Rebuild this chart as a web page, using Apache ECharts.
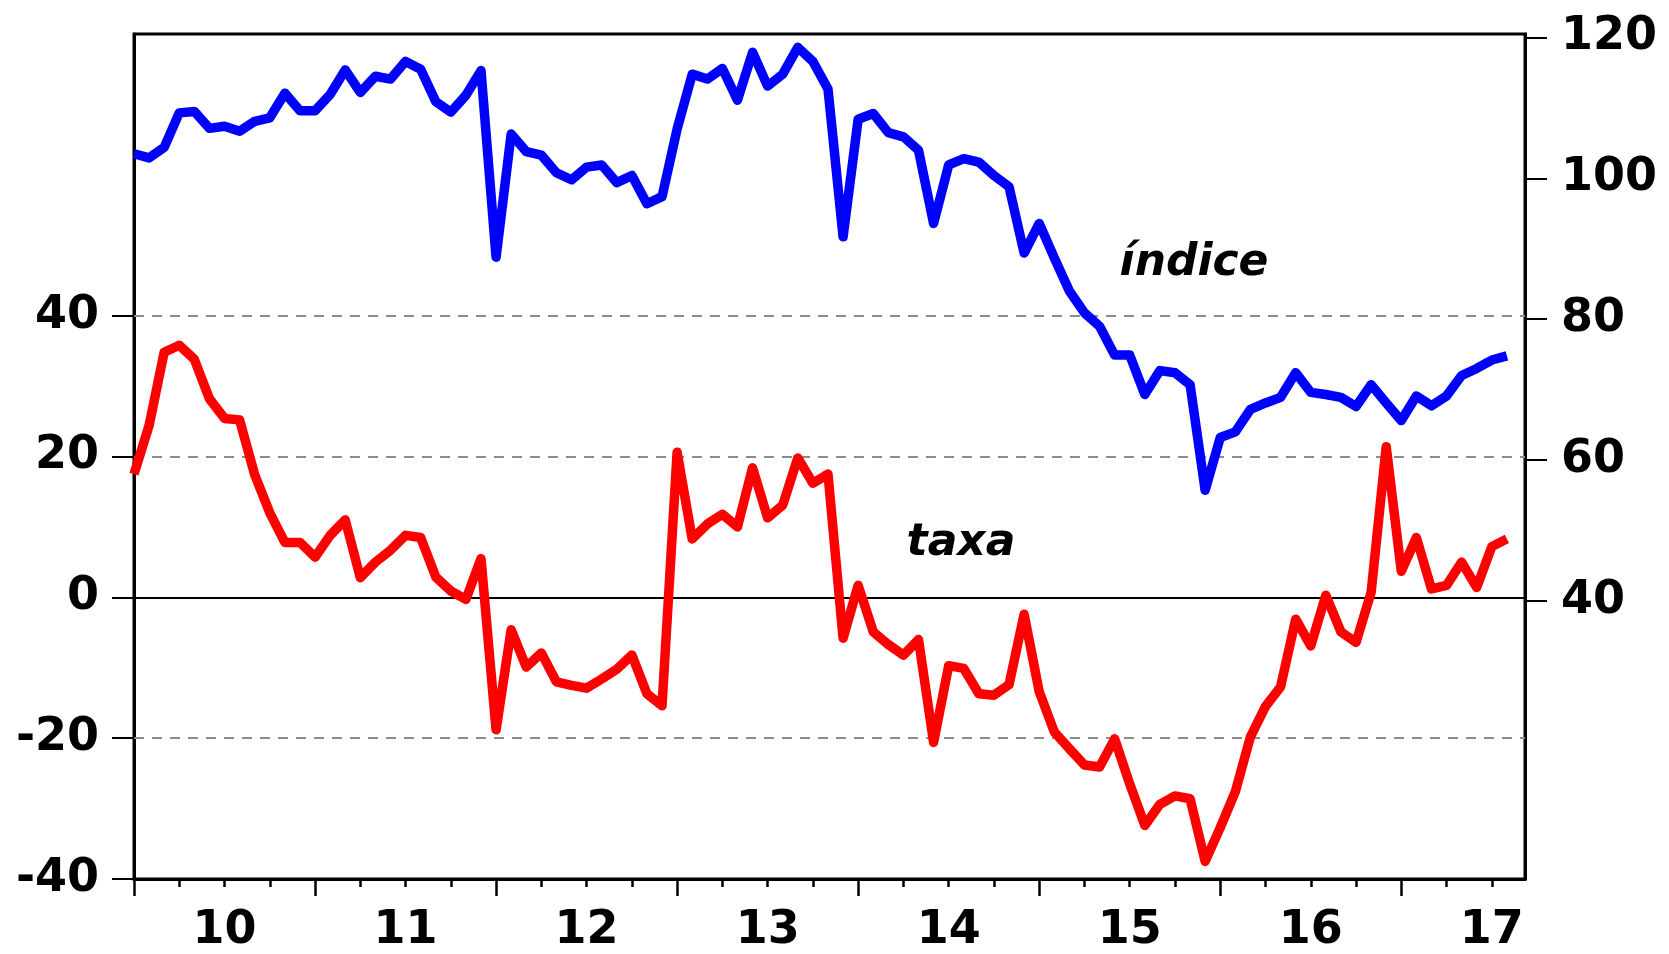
<!DOCTYPE html>
<html>
<head>
<meta charset="utf-8">
<script src="https://cdn.jsdelivr.net/npm/echarts@6/dist/echarts.min.js"></script>
<style>
html, body { margin: 0; padding: 0; background: #fff; }
#chart { width: 1669px; height: 954px; }
</style>
</head>
<body>
<div id="chart"></div>
<script>
// monthly observations, Jan 2010 .. Aug 2017
const months = [];
for (let y = 2010; y <= 2017; y++) {
  for (let m = 1; m <= 12; m++) {
    if (y === 2017 && m > 8) break;
    months.push(y + "-" + String(m).padStart(2, "0"));
  }
}

// taxa (left axis, red)
const taxa = [17.5, 24.4, 34.8, 35.8, 33.8, 28.2, 25.4, 25.2, 17.4, 12.0,
  7.8, 7.8, 5.7, 8.8, 11.0, 2.8, 5.0, 6.7, 8.8, 8.5,
  2.9, 0.9, -0.3, 5.5, -18.8, -4.6, -9.9, -7.9, -12.0, -12.5,
  -12.9, -11.6, -10.2, -8.2, -13.7, -15.4, 20.6, 8.3, 10.4, 11.8,
  10.0, 18.4, 11.3, 13.1, 19.8, 16.2, 17.5, -5.8, 1.7, -4.9,
  -6.7, -8.2, -6.0, -20.6, -9.7, -10.1, -13.7, -13.9, -12.4, -2.4,
  -13.4, -19.1, -21.5, -23.8, -24.1, -20.1, -26.5, -32.4, -29.4, -28.2,
  -28.6, -37.5, -32.7, -27.6, -19.8, -15.5, -12.7, -3.1, -6.9, 0.3,
  -4.9, -6.4, 0.7, 21.4, 3.7, 8.5, 1.2, 1.7, 5.0, 1.4,
  7.2, 8.3];

// índice (right axis, blue)
const indice = [103.5, 102.9, 104.4, 109.3, 109.5, 107.1, 107.4, 106.7, 108.1, 108.6,
  112.1, 109.6, 109.6, 111.9, 115.4, 112.2, 114.5, 114.1, 116.6, 115.5,
  110.9, 109.4, 111.8, 115.3, 88.8, 106.3, 103.8, 103.3, 100.8, 99.8,
  101.6, 101.9, 99.4, 100.4, 96.4, 97.4, 107.0, 114.8, 114.1, 115.6,
  111.1, 117.9, 113.1, 114.8, 118.6, 116.6, 112.7, 91.7, 108.4, 109.2,
  106.5, 105.9, 104.0, 93.6, 101.9, 102.8, 102.3, 100.4, 98.8, 89.4,
  93.6, 88.7, 84.0, 80.9, 79.0, 74.9, 74.9, 69.3, 72.7, 72.4,
  70.7, 55.7, 63.2, 64.0, 67.2, 68.1, 68.9, 72.4, 69.6, 69.3,
  68.9, 67.6, 70.7, 68.1, 65.6, 69.1, 67.7, 69.1, 72.0, 73.0,
  74.2, 74.8];

// axis ticks / labels
const yearLabels = ["10", "11", "12", "13", "14", "15", "16", "17"];
const yearTicks = [6, 18, 30, 42, 54, 66, 78, 90];          // mid-year label spots
const majorTicks = [0, 12, 24, 36, 48, 60, 72, 84];         // January
const quarterTicks = [];
for (let i = 0; i <= 90; i += 3) quarterTicks.push(i);
const leftTicks = [-40, -20, 0, 20, 40];
const rightTicks = [40, 60, 80, 100, 120];
const gridLevels = [40, 20, -20];

const axisFont = {
  fontFamily: "DejaVu Sans",
  fontWeight: "bold",
  fontSize: 46,
  color: "#000",
};

var chartDom = document.getElementById("chart");
var myChart = echarts.init(chartDom);

var option = {
  animation: false,
  backgroundColor: "#fff",
  grid: {
    left: 134, right: 144, top: 34, bottom: 72,
    show: true, borderColor: "#000", borderWidth: 3,
  },
  xAxis: [
    {
      type: "value", min: 0, max: 92.2, position: "bottom",
      axisLine: { show: true, onZero: false, lineStyle: { color: "#000", width: 3 } },
      axisTick: { show: true, length: 8, customValues: quarterTicks, lineStyle: { color: "#000", width: 2.5 } },
      axisLabel: {
        show: true, customValues: yearTicks, margin: 29,
        formatter: (v) => yearLabels[yearTicks.indexOf(v)] || "",
        ...axisFont,
      },
      splitLine: { show: false },
    },
    {
      // long January ticks
      type: "value", min: 0, max: 92.2, position: "bottom",
      axisLine: { show: false, onZero: false },
      axisTick: { show: true, length: 17, customValues: majorTicks, lineStyle: { color: "#000", width: 2.5 } },
      axisLabel: { show: false },
      splitLine: { show: false },
    },
  ],
  yAxis: [
    {
      type: "value", min: -40, max: 80, position: "left",
      axisLine: { show: true, onZero: false, lineStyle: { color: "#000", width: 3 } },
      axisTick: { show: true, length: 22, customValues: leftTicks, lineStyle: { color: "#000", width: 2 } },
      axisLabel: { customValues: leftTicks, margin: 35, padding: [0, 0, 7, 0], ...axisFont },
      splitLine: { show: false },
    },
    {
      type: "value", min: 0.5, max: 120.5, position: "right",
      axisLine: { show: true, onZero: false, lineStyle: { color: "#000", width: 3 } },
      axisTick: { show: true, length: 22, customValues: rightTicks, lineStyle: { color: "#000", width: 2 } },
      axisLabel: { customValues: rightTicks, margin: 36, padding: [0, 0, 7, 0], ...axisFont },
      splitLine: { show: false },
    },
  ],
  graphic: [
    {
      type: "text", z: 20,
      style: { text: "índice", x: 1194, y: 264, textAlign: "center", textVerticalAlign: "middle",
        font: 'italic bold 44px "DejaVu Sans"', fill: "#000" },
    },
    {
      type: "text", z: 20,
      style: { text: "taxa", x: 961, y: 544, textAlign: "center", textVerticalAlign: "middle",
        font: 'italic bold 44px "DejaVu Sans"', fill: "#000" },
    },
  ],
  series: [
    {
      // reference lines only
      name: "grade",
      type: "line",
      data: [],
      z: 1,
      silent: true,
      markLine: {
        z: 1,
        silent: true,
        symbol: "none",
        label: { show: false },
        data: gridLevels.map((v) => ({
          yAxis: v,
          lineStyle: { color: "#8c8c8c", width: 2, type: [10, 8] },
        })).concat([{ yAxis: 0, lineStyle: { color: "#000", width: 2, type: "solid" } }]),
      },
    },
    {
      name: "taxa",
      type: "line",
      xAxisIndex: 0,
      yAxisIndex: 0,
      z: 10,
      symbol: "none",
      data: taxa.map((v, i) => ({ name: months[i], value: [i, v] })),
      lineStyle: { color: "#ff0000", width: 9.5, join: "round", cap: "butt" },
    },
    {
      name: "índice",
      type: "line",
      xAxisIndex: 0,
      yAxisIndex: 1,
      z: 10,
      symbol: "none",
      data: indice.map((v, i) => ({ name: months[i], value: [i, v] })),
      lineStyle: { color: "#0000ff", width: 9.5, join: "round", cap: "butt" },
    },
  ],
};
myChart.setOption(option);
</script>
</body>
</html>
